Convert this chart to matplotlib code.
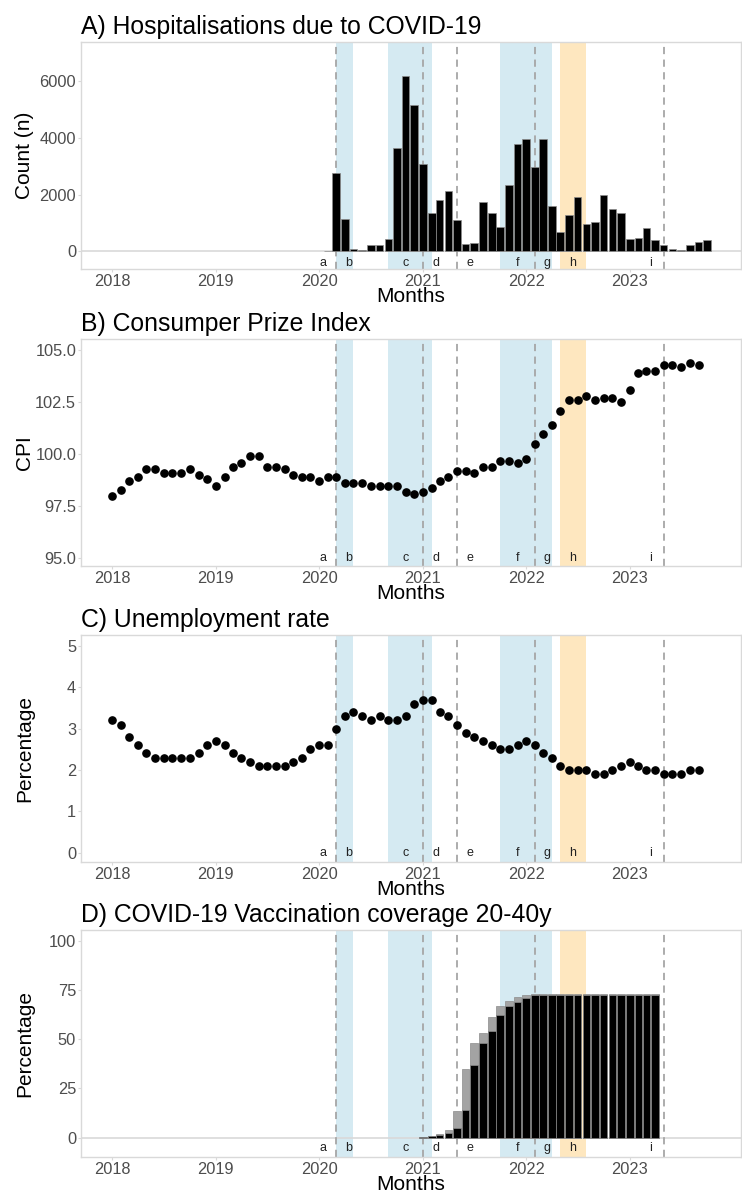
import numpy as np
import pandas as pd
import matplotlib
matplotlib.use("Agg")
import matplotlib.pyplot as plt

plt.rcParams['font.family'] = ['Liberation Sans', 'DejaVu Sans']

# ---- data ----
cpi_months = pd.date_range("2018-01-01", "2023-09-01", freq="MS")
cpi = [98.0, 98.3, 98.7, 98.9, 99.3, 99.3, 99.1, 99.1, 99.1, 99.3, 99.0, 98.8,
       98.5, 98.9, 99.4, 99.6, 99.9, 99.9, 99.4, 99.4, 99.3, 99.0, 98.9, 98.9,
       98.7, 98.9, 98.9, 98.6, 98.6, 98.6, 98.5, 98.5, 98.5, 98.5, 98.2, 98.1,
       98.2, 98.4, 98.7, 98.9, 99.2, 99.2, 99.1, 99.4, 99.4, 99.7, 99.7, 99.6,
       99.8, 100.5, 101.0, 101.4, 102.1, 102.6, 102.6, 102.8, 102.6, 102.7, 102.7, 102.5,
       103.1, 103.9, 104.0, 104.0, 104.3, 104.3, 104.2, 104.4, 104.3]
unemp = [3.2, 3.1, 2.8, 2.6, 2.4, 2.3, 2.3, 2.3, 2.3, 2.3, 2.4, 2.6,
         2.7, 2.6, 2.4, 2.3, 2.2, 2.1, 2.1, 2.1, 2.1, 2.2, 2.3, 2.5,
         2.6, 2.6, 3.0, 3.3, 3.4, 3.3, 3.2, 3.3, 3.2, 3.2, 3.3, 3.6,
         3.7, 3.7, 3.4, 3.3, 3.1, 2.9, 2.8, 2.7, 2.6, 2.5, 2.5, 2.6,
         2.7, 2.6, 2.4, 2.3, 2.1, 2.0, 2.0, 2.0, 1.9, 1.9, 2.0, 2.1,
         2.2, 2.1, 2.0, 2.0, 1.9, 1.9, 1.9, 2.0, 2.0]

hosp_months = pd.date_range("2020-02-01", "2023-10-01", freq="MS")
hosp = [30, 2780, 1130, 100, 50, 210, 210, 450, 3660, 6200, 5150,
        3100, 1350, 1820, 2140, 1100, 260, 310, 1760, 1340, 860, 2360, 3800,
        3950, 2980, 3950, 1620, 670, 1300, 1930, 980, 1040, 1990, 1490, 1350,
        450, 480, 810, 410, 220, 80, 60, 240, 320, 400]

vacc_months = pd.date_range("2021-01-01", "2023-04-01", freq="MS")
vacc_dose1 = [0.3, 1.0, 1.9, 4.0, 13.5, 35.1, 48.0, 53.0, 61.3, 67.0, 69.3, 71.3,
              72.6, 72.8, 72.9, 72.9, 72.9, 72.9, 72.9, 72.9, 72.9, 72.9, 72.9, 72.9,
              72.9, 72.9, 72.9, 72.9]
vacc_dose2 = [0.2, 0.7, 1.4, 2.4, 4.7, 13.9, 36.7, 48.3, 54.0, 62.3, 66.9, 69.1,
              71.1, 72.3, 72.6, 72.6, 72.6, 72.6, 72.6, 72.6, 72.6, 72.6, 72.6, 72.6,
              72.6, 72.6, 72.6, 72.6]

year_ticks = ["2018-01-01", "2019-01-01", "2020-01-01", "2021-01-01", "2022-01-01", "2023-01-01"]
year_labels = ["2018", "2019", "2020", "2021", "2022", "2023"]

event_dates = ["2020-03-01", "2021-01-01", "2021-05-01", "2022-02-01", "2023-05-01"]
blue_periods = [("2020-03-01", "2020-05-01"), ("2020-09-01", "2021-02-01"),
                ("2021-10-01", "2022-04-01")]
orange_periods = [("2022-05-01", "2022-08-01")]
letters = ["a", "b", "c", "d", "e", "f", "g", "h", "i"]
letter_dates = ["2020-01-15", "2020-04-15", "2020-11-01", "2021-02-15", "2021-06-15",
                "2021-12-01", "2022-03-15", "2022-06-15", "2023-03-15"]

BLUE = "#D5EAF2"
ORANGE = "#FEE7BF"
FRAME = "#D9D9D9"
TICKC = "#4D4D4D"

fig = plt.figure(figsize=(7.42, 11.93), dpi=100)
W, H = 742.0, 1193.0


def add_ax(top, bottom, left=81, right=741):
    return fig.add_axes([left / W, 1 - bottom / H, (right - left) / W, (bottom - top) / H])


def setup(ax, title, ylabel, ylim, yticks, ylabels, letter_y, zero_line=False):
    for a, b in blue_periods:
        ax.axvspan(pd.Timestamp(a), pd.Timestamp(b), color=BLUE, lw=0, zorder=0)
    for a, b in orange_periods:
        ax.axvspan(pd.Timestamp(a), pd.Timestamp(b), color=ORANGE, lw=0, zorder=0)
    if zero_line:
        ax.axhline(0, color=FRAME, lw=1.2, zorder=0.5)
    for d in event_dates:
        ax.axvline(pd.Timestamp(d), color="#A6A6A6", lw=1.3, ls=(0, (4, 3)), zorder=1)
    for l, d in zip(letters, letter_dates):
        ax.text(pd.Timestamp(d), letter_y, l, ha="center", va="center",
                fontsize=9, color="#222222", zorder=4)
    ax.set_xlim(pd.Timestamp("2017-09-12"), pd.Timestamp("2024-01-29"))
    ax.set_ylim(*ylim)
    ax.set_yticks(yticks)
    ax.set_yticklabels(ylabels)
    ax.set_xticks([pd.Timestamp(t) for t in year_ticks])
    ax.set_xticklabels(year_labels)
    ax.tick_params(axis="both", colors=FRAME, labelcolor=TICKC, labelsize=11.8,
                   length=2.5, width=0.8, pad=1)
    for s in ax.spines.values():
        s.set_color(FRAME)
        s.set_linewidth(1.0)
    ax.set_title(title, loc="left", fontsize=17.8, pad=6, color="black")
    ax.set_ylabel(ylabel, fontsize=15)
    ax.yaxis.set_label_coords(-0.071, 0.5)
    ax.set_xlabel("Months", fontsize=15, labelpad=-1.2)


# A) hospitalisations
axA = add_ax(42, 269)
axA.bar(hosp_months, hosp, width=27, color="black", edgecolor="#8C8C8C", lw=0.5, zorder=2)
setup(axA, "A) Hospitalisations due to COVID-19", "Count (n)", (-620, 7390),
      [0, 2000, 4000, 6000], ["0", "2000", "4000", "6000"], -400, zero_line=True)

# B) CPI
axB = add_ax(339, 566)
axB.plot(cpi_months, cpi, "o", color="black", ms=5.2, zorder=3)
setup(axB, "B) Consumper Prize Index", "CPI", (94.63, 105.55),
      [95, 97.5, 100, 102.5, 105], ["95.0", "97.5", "100.0", "102.5", "105.0"], 95.0)

# C) unemployment
axC = add_ax(635, 862)
axC.plot(cpi_months, unemp, "o", color="black", ms=5.2, zorder=3)
setup(axC, "C) Unemployment rate", "Percentage", (-0.226, 5.265),
      [0, 1, 2, 3, 4, 5], ["0", "1", "2", "3", "4", "5"], 0.0)

# D) vaccination
axD = add_ax(930, 1157)
axD.bar(vacc_months, vacc_dose1, width=27, color="#A3A3A3", edgecolor="#8C8C8C", lw=0.5, zorder=2)
axD.bar(vacc_months, vacc_dose2, width=27, color="black", edgecolor="#8C8C8C", lw=0.5, zorder=2.5)
setup(axD, "D) COVID-19 Vaccination coverage 20-40y", "Percentage", (-9.8, 105.4),
      [0, 25, 50, 75, 100], ["0", "25", "50", "75", "100"], -5, zero_line=True)

fig.savefig("out.png", dpi=100, facecolor="white")
